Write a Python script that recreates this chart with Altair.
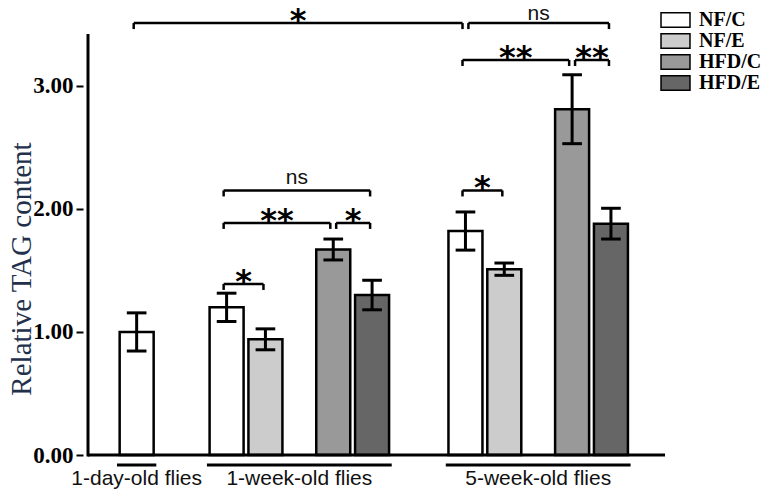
import altair as alt
import pandas as pd

# ---------------- data ----------------
groups = ["1-day-old flies", "1-week-old flies", "5-week-old flies"]
conditions = ["NF/C", "NF/E", "HFD/C", "HFD/E"]
bar_group = [0, 1, 1, 1, 1, 2, 2, 2, 2]
bar_cond = [0, 0, 1, 2, 3, 0, 1, 2, 3]
means = [1.00, 1.20, 0.94, 1.67, 1.30, 1.82, 1.51, 2.81, 1.88]
errors = [0.155, 0.115, 0.085, 0.085, 0.12, 0.155, 0.05, 0.28, 0.125]

# significance brackets (bar index from / to, height, label)
sig_from = [0, 5, 5, 7, 5, 1, 1, 3, 1]
sig_to = [5, 8, 7, 8, 6, 4, 3, 4, 2]
sig_level = [3.51, 3.51, 3.21, 3.21, 2.15, 2.15, 1.886, 1.886, 1.39]
sig_label = ["*", "ns", "**", "**", "*", "ns", "**", "*", "*"]

y_ticks = [0, 1, 2, 3]
y_title = "Relative TAG content"
colors = ["#ffffff", "#cccccc", "#999999", "#666666"]

# ---------------- layout ----------------
PLOT_W, PLOT_H = 587, 443
Y_MAX = 3.6
AXIS_TOP = 3.41
GROUP_X = [49.5, 141, 384]
COND_DX = [0, 39.5, 108.5, 148]
BAR_W = 34
CAP_HALF = 10
PX = Y_MAX / PLOT_H  # data units per pixel
TICK_DROP = 6 * PX
NS_GAP = 6 * PX              # baseline of "ns" above its bracket
NS_TOP = Y_MAX - 8 * PX      # keep "ns" inside the visible area

pos = [GROUP_X[g] + COND_DX[c] for g, c in zip(bar_group, bar_cond)]

bars = pd.DataFrame({
    "group": [groups[g] for g in bar_group],
    "condition": [conditions[c] for c in bar_cond],
    "pos": pos,
    "mean": means,
    "err": errors,
})
bars["lo"] = bars["mean"] - bars["err"]
bars["hi"] = bars["mean"] + bars["err"]
bars["cl"] = bars["pos"] - CAP_HALF
bars["cr"] = bars["pos"] + CAP_HALF
caps = pd.concat([
    bars[["cl", "cr"]].assign(y=bars["lo"]),
    bars[["cl", "cr"]].assign(y=bars["hi"]),
])

n = len(sig_label)
br_rows, tick_rows = [], []
for k in range(n):
    a, b, lev = sig_from[k], sig_to[k], sig_level[k]
    shared_start = any(sig_to[j] == a and sig_level[j] == lev for j in range(n) if j != k)
    shared_end = any(sig_from[j] == b and sig_level[j] == lev for j in range(n) if j != k)
    x1 = pos[a] + (3 if shared_start else -3)
    x2 = pos[b] - (3 if shared_end else 2)
    is_star = sig_label[k] != "ns"
    ty = lev if is_star else min(lev + NS_GAP, NS_TOP)
    br_rows.append({"x1": x1, "x2": x2, "y": lev, "ty": ty, "xm": (x1 + x2) / 2,
                    "label": sig_label[k], "star": is_star})
    for xx in (x1, x2):
        tick_rows.append({"x": xx, "y": lev, "y2": lev - TICK_DROP})
brackets = pd.DataFrame(br_rows)
bticks = pd.DataFrame(tick_rows)

grp_rows = []
for g, name in enumerate(groups):
    ps = [p for p, gg in zip(pos, bar_group) if gg == g]
    x1 = min(ps) - BAR_W / 2 - 3
    x2 = max(ps) + BAR_W / 2 + 3
    grp_rows.append({"group": name, "x1": x1, "x2": x2, "xm": (x1 + x2) / 2, "y": 0})
grp = pd.DataFrame(grp_rows)

base_df = pd.DataFrame({"x1": [0], "x2": [PLOT_W], "y": [0]})
yax_df = pd.DataFrame({"x": [0], "y1": [0], "y2": [AXIS_TOP]})

# ---------------- encodings ----------------
xscale = alt.Scale(domain=[0, PLOT_W], nice=False, zero=False)
yscale = alt.Scale(domain=[0, Y_MAX], nice=False)
yaxis = alt.Axis(
    values=y_ticks, format=".2f", title=y_title, grid=False, domain=False,
    tickSize=7, tickWidth=2, tickColor="black",
    labelFont="Liberation Serif", labelFontWeight="bold", labelFontSize=23,
    labelColor="black", labelPadding=3, labelFlush=False, labelOverlap=False,
    titleFont="Liberation Serif", titleFontWeight="normal", titleFontSize=29,
    titleColor="#22304b", titleAngle=270, titleAlign="center",
    titleBaseline="alphabetic", titleX=-53, titleY=256.5,
)


def X(f):
    return alt.X(f, type="quantitative", scale=xscale, axis=None)


def Y(f):
    return alt.Y(f, type="quantitative", scale=yscale, axis=yaxis)


legend = alt.Legend(
    orient="none", legendX=582.5, legendY=-2, title=None, padding=0,
    symbolType="M-2,-1H2V1H-2Z", symbolSize=210,
    symbolStrokeColor="black", symbolStrokeWidth=1.5, symbolOpacity=1,
    labelFont="Liberation Serif", labelFontWeight="bold", labelFontSize=20,
    labelColor="black", labelOffset=13.5, rowPadding=-2,
)

bar_layer = alt.Chart(bars).mark_bar(size=BAR_W, stroke="black", strokeWidth=2.5, opacity=1).encode(
    x=X("pos"), y=Y("mean"),
    fill=alt.Fill("condition:N", scale=alt.Scale(domain=conditions, range=colors), legend=legend),
)
err_layer = alt.Chart(bars).mark_rule(color="black", strokeWidth=3).encode(
    x=X("pos"), y=Y("lo"), y2="hi")
cap_layer = alt.Chart(caps).mark_rule(color="black", strokeWidth=3).encode(
    x=X("cl"), x2="cr", y=Y("y"))
base_layer = alt.Chart(base_df).mark_rule(color="black", strokeWidth=3).encode(
    x=X("x1"), x2="x2", y=Y("y"))
yax_layer = alt.Chart(yax_df).mark_rule(color="black", strokeWidth=3, strokeCap="square").encode(
    x=X("x"), y=Y("y1"), y2="y2")
under_layer = alt.Chart(grp).mark_rule(color="black", strokeWidth=3, yOffset=10).encode(
    x=X("x1"), x2="x2", y=Y("y"))
grp_text = alt.Chart(grp).mark_text(
    font="Liberation Sans", fontSize=21, color="#111111", baseline="alphabetic", dy=30
).encode(x=X("xm"), y=Y("y"), text="group:N")
br_line = alt.Chart(brackets).mark_rule(color="black", strokeWidth=2.5).encode(
    x=X("x1"), x2="x2", y=Y("y"))
br_tick = alt.Chart(bticks).mark_rule(color="black", strokeWidth=2.5).encode(
    x=X("x"), y=Y("y"), y2="y2")
star_text = alt.Chart(brackets).transform_filter("datum.star").mark_text(
    font="DejaVu Sans", fontWeight="bold", fontSize=32, color="black", baseline="alphabetic", dy=8
).encode(x=X("xm"), y=Y("ty"), text="label:N")
ns_text = alt.Chart(brackets).transform_filter("!datum.star").mark_text(
    font="Liberation Sans", fontSize=21, color="#111111", baseline="alphabetic"
).encode(x=X("xm"), y=Y("ty"), text="label:N")

chart = alt.layer(
    bar_layer, err_layer, cap_layer, base_layer, yax_layer, under_layer, grp_text,
    br_line, br_tick, star_text, ns_text,
).properties(
    width=PLOT_W, height=PLOT_H,
    padding={"left": 75, "top": 4, "right": 96, "bottom": 35},
    autosize=alt.AutoSizeParams(type="none"),
).configure_view(stroke=None)

chart.save("out.html", embed_options={"renderer": "svg", "actions": False})
